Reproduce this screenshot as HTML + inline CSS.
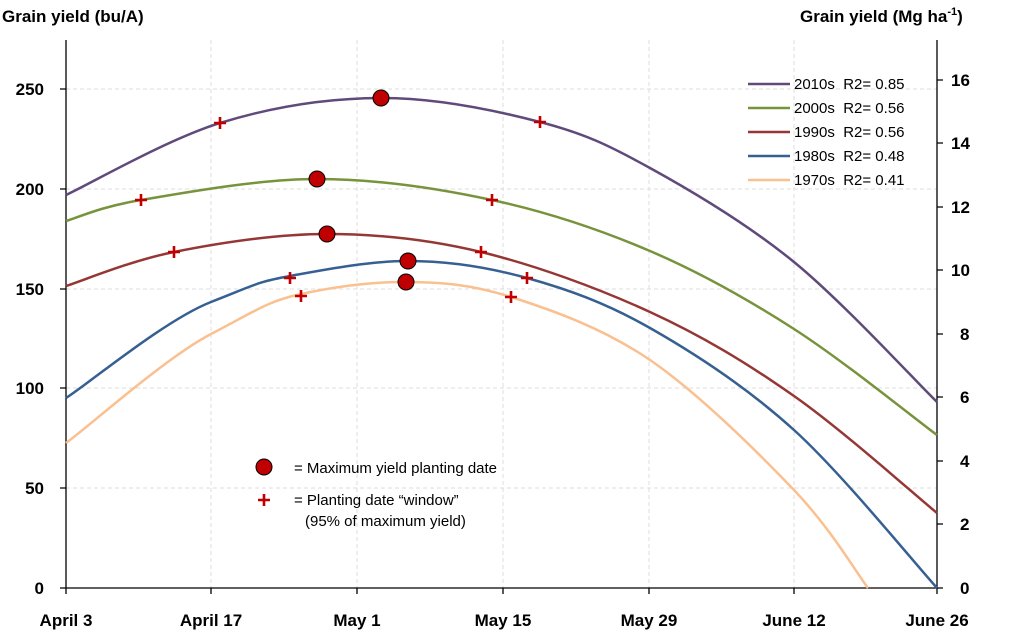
<!DOCTYPE html>
<html><head><meta charset="utf-8"><style>
body{margin:0;background:#fff;}
svg{display:block;font-family:"Liberation Sans",Arial,sans-serif;}
</style></head><body>
<svg width="1024" height="634" viewBox="0 0 1024 634">
<g stroke="#dcdcdc" stroke-dasharray="4,3" stroke-width="1">
<line x1="66" y1="488" x2="937" y2="488"/><line x1="66" y1="388" x2="937" y2="388"/>
<line x1="66" y1="289" x2="937" y2="289"/><line x1="66" y1="189" x2="937" y2="189"/>
<line x1="66" y1="89" x2="937" y2="89"/>
<line x1="211" y1="40" x2="211" y2="588"/><line x1="357" y1="40" x2="357" y2="588"/>
<line x1="503" y1="40" x2="503" y2="588"/><line x1="649" y1="40" x2="649" y2="588"/>
<line x1="794" y1="40" x2="794" y2="588"/>
</g>
<g stroke="#000" stroke-width="1.3" fill="none">
<line x1="66" y1="40" x2="66" y2="588"/><line x1="937" y1="40" x2="937" y2="588"/>
<line x1="66" y1="588" x2="937" y2="588"/>
<path d="M60 588H66M60 488H66M60 388H66M60 289H66M60 189H66M60 89H66"/>
<path d="M937 588H943M937 524H943M937 461H943M937 397H943M937 334H943M937 270H943M937 207H943M937 143H943M937 80H943"/>
<path d="M66 588V594M211 588V594M357 588V594M503 588V594M649 588V594M794 588V594M937 588V594"/>
</g>
<g font-size="17" font-weight="bold" fill="#000">
<text x="2" y="22">Grain yield (bu/A)</text>
<text x="800" y="22">Grain yield (Mg ha<tspan font-size="11" dy="-7">-1</tspan><tspan dy="7">)</tspan></text>
<g text-anchor="end"><text x="44" y="594">0</text><text x="44" y="494">50</text><text x="44" y="394">100</text><text x="44" y="295">150</text><text x="44" y="195">200</text><text x="44" y="95">250</text></g>
<g><text x="960" y="594">0</text><text x="960" y="530">2</text><text x="960" y="467">4</text><text x="960" y="403">6</text><text x="960" y="340">8</text><text x="951" y="276">10</text><text x="951" y="213">12</text><text x="951" y="149">14</text><text x="951" y="86">16</text></g>
<g text-anchor="middle"><text x="66" y="626">April 3</text><text x="211" y="626">April 17</text><text x="357" y="626">May 1</text><text x="503" y="626">May 15</text><text x="649" y="626">May 29</text><text x="794" y="626">June 12</text><text x="937" y="626">June 26</text></g>
</g>
<g fill="none" stroke-width="2.5">
<path stroke="#604a7b" d="M66 195 C91.7 183 167.5 139.2 220 123 S327.7 98.2 381 98 S495.2 110.3 540 122 S607.7 144.7 650 168 S746.2 223 794 262 S913.2 378.7 937 402"/>
<path stroke="#77933c" d="M66 221 C78.5 217.5 99.2 207 141 200 S258.5 179 317 179 S436.5 188 492 200 S599.7 229.5 650 251 S746.2 298.3 794 329 S913.2 417.3 937 435"/>
<path stroke="#953735" d="M66 286 C84 280.3 130.5 260.7 174 252 S275.8 234 327 234 S427.2 239 481 252 S597.8 288 650 312 S746.2 362.5 794 396 S913.2 493.5 937 513"/>
<path stroke="#366092" d="M66 398 C90.2 382.5 165 320 211 302 S257.2 282 290 276 S368.5 261 408 261 S486.7 266.8 527 278 S605.5 302.7 650 328 S746.2 386.7 794 430 S913.2 561.7 937 588"/>
<path stroke="#fac090" d="M66 443 C90.2 425.5 165 358 211 334 S268.5 301 301 294 S371 281.8 406 282 S470.3 284 511 297 S602.8 327.8 650 360 S757.7 452 794 490 S855.7 571.7 868 588"/>
</g>
<g stroke="#c00000" stroke-width="2.6" fill="none">
<path d="M214 123h12M220 117v12M534 122h12M540 116v12M135 200h12M141 194v12M486 200h12M492 194v12M168 252h12M174 246v12M475 252h12M481 246v12M284 278h12M290 272v12M521 278h12M527 272v12M295 296h12M301 290v12M505 297h12M511 291v12"/>
</g>
<g fill="#c00000" stroke="#000" stroke-width="1">
<circle cx="381" cy="98" r="8"/><circle cx="317" cy="179" r="8"/><circle cx="327" cy="234" r="8"/><circle cx="408" cy="261" r="8"/><circle cx="406" cy="282" r="8"/>
</g>
<g font-size="15" fill="#000">
<line x1="748" y1="84" x2="790" y2="84" stroke="#604a7b" stroke-width="2.5"/><text x="794" y="89" xml:space="preserve">2010s  R2= 0.85</text>
<line x1="748" y1="108" x2="790" y2="108" stroke="#77933c" stroke-width="2.5"/><text x="794" y="113" xml:space="preserve">2000s  R2= 0.56</text>
<line x1="748" y1="132" x2="790" y2="132" stroke="#953735" stroke-width="2.5"/><text x="794" y="137" xml:space="preserve">1990s  R2= 0.56</text>
<line x1="748" y1="156" x2="790" y2="156" stroke="#366092" stroke-width="2.5"/><text x="794" y="161" xml:space="preserve">1980s  R2= 0.48</text>
<line x1="748" y1="180" x2="790" y2="180" stroke="#fac090" stroke-width="2.5"/><text x="794" y="185" xml:space="preserve">1970s  R2= 0.41</text>
<circle cx="264" cy="467" r="8" fill="#c00000" stroke="#000" stroke-width="1"/>
<text x="294" y="473">= Maximum yield planting date</text>
<path d="M258 500h12M264 494v12" stroke="#c00000" stroke-width="2.6"/>
<text x="294" y="505">= Planting date “window”</text>
<text x="305" y="526">(95% of maximum yield)</text>
</g>
</svg>
</body></html>
